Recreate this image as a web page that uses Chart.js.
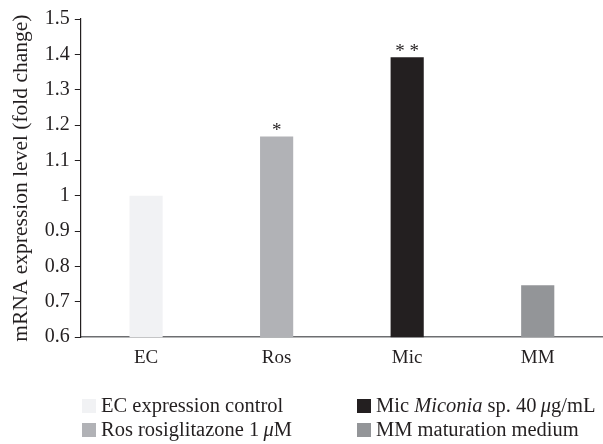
<!DOCTYPE html>
<html>
<head>
<meta charset="utf-8">
<script src="https://cdn.jsdelivr.net/npm/chart.js@4/dist/chart.umd.min.js"></script>
<style>
  html, body { margin: 0; padding: 0; background: #fff; }
  #wrap { position: relative; width: 603px; height: 444px; }
  #legend { position: absolute; left: 82px; top: 395px; width: 521px;
            font-family: "Liberation Serif", "DejaVu Serif", serif; font-size: 20.5px; color: #231f20;
            display: grid; grid-template-columns: 275px auto; row-gap: 3px; }
  #legend .item { display: flex; align-items: center; white-space: nowrap; line-height: 21px; }
  #legend .box { width: 14px; height: 14px; margin-right: 5px; flex: none; }
</style>
</head>
<body>
<div id="wrap">
  <canvas id="barChart" width="603" height="444"></canvas>
  <div id="legend"></div>
</div>
<script>
const categories = ['EC', 'Ros', 'Mic', 'MM'];
const values = [1.0, 1.168, 1.392, 0.747];
const barColors = ['#f1f2f4', '#b1b2b6', '#231f20', '#939598'];
const marks = ['', '*', '**', ''];
const legendLabels = [
    'EC expression control',
    'Mic <i>Miconia</i> sp. 40\u2009<i>\u03bc</i>g/mL',
    'Ros rosiglitazone 1\u2009<i>\u03bc</i>M',
    'MM maturation medium'
];
const legendColors = ['#f1f2f4', '#231f20', '#b1b2b6', '#939598'];

const serif = '"Liberation Serif", "DejaVu Serif", serif';

// stars above bars
const starPlugin = {
    id: 'stars',
    afterDatasetsDraw(chart) {
        const ctx = chart.ctx;
        const meta = chart.getDatasetMeta(0);
        ctx.save();
        ctx.fillStyle = '#231f20';
        ctx.font = '19px ' + serif;
        ctx.textAlign = 'center';
        ctx.textBaseline = 'bottom';
        meta.data.forEach((bar, i) => {
            if (marks[i]) ctx.fillText(marks[i].split('').join(' '), bar.x, bar.y + 4);
        });
        ctx.restore();
    }
};

const ctx = document.getElementById('barChart').getContext('2d');
const barChart = new Chart(ctx, {
    type: 'bar',
    data: {
        labels: categories,
        datasets: [{
            data: values,
            backgroundColor: barColors,
            borderWidth: 0,
            barPercentage: 0.254,
            categoryPercentage: 1
        }]
    },
    options: {
        responsive: false,
        animation: false,
        layout: { padding: { top: 19, right: 0, bottom: 74, left: 8 } },
        plugins: { legend: { display: false }, tooltip: { enabled: false } },
        scales: {
            x: {
                grid: { display: false },
                border: { color: '#6d6e71', width: 1.5 },
                ticks: { color: '#231f20', font: { family: serif, size: 19 }, padding: 1 }
            },
            y: {
                min: 0.6,
                max: 1.5,
                ticks: {
                    stepSize: 0.1, color: '#231f20', font: { family: serif, size: 20 }, padding: 5,
                    callback: v => String(Math.round(v * 10) / 10)
                },
                grid: { drawOnChartArea: false, color: '#231f20', tickLength: 6 },
                border: { color: '#231f20', width: 1.2 },
                title: {
                    display: true,
                    text: 'mRNA expression level (fold change)',
                    color: '#231f20',
                    font: { family: serif, size: 21.5 },
                    padding: { top: 0, bottom: 6 }
                }
            }
        }
    },
    plugins: [starPlugin]
});

const legend = document.getElementById('legend');
legendLabels.forEach((label, i) => {
    const item = document.createElement('div');
    item.className = 'item';
    item.innerHTML = '<span class="box" style="background:' + legendColors[i] + '"></span><span>' + label + '</span>';
    legend.appendChild(item);
});
</script>
</body>
</html>
